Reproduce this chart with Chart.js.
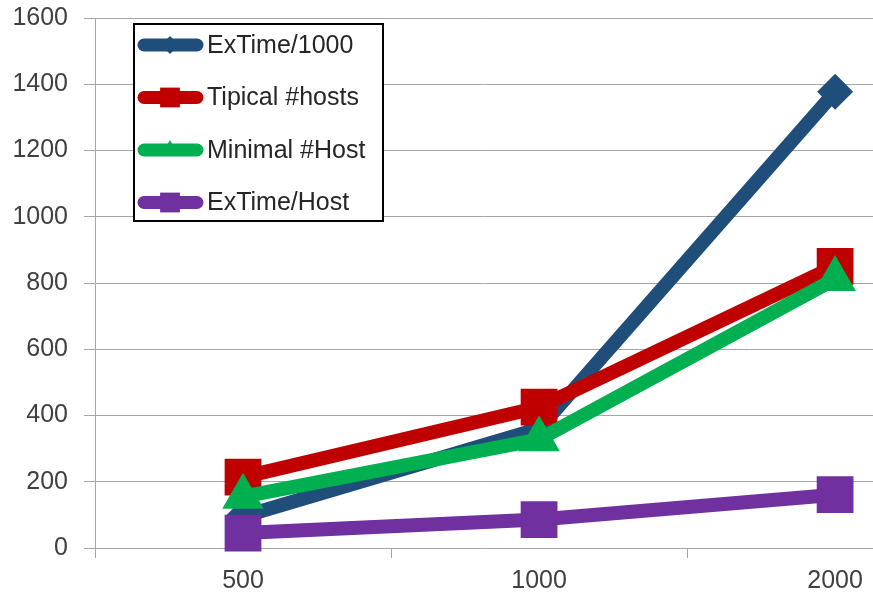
<!DOCTYPE html>
<html>
<head>
<meta charset="utf-8">
<script src="https://cdn.jsdelivr.net/npm/chart.js@4/dist/chart.umd.min.js"></script>
<style>
  html, body { margin: 0; padding: 0; background: #fff; }
  #wrap { width: 873px; height: 600px; }
</style>
</head>
<body>
<div id="wrap"><canvas id="lineChart"></canvas></div>
<script>
const categories = ["500", "1000", "2000"];
const exTime1000 = [95, 360, 1377];
const tipicalHosts = [214, 425, 850];
const minimalHost = [155, 328, 812];
const exTimeHost = [45, 86, 161];
const yTicks = [0, 200, 400, 600, 800, 1000, 1200, 1400, 1600];

const FONT = "'Liberation Sans', Arial, sans-serif";
const GRID = "#a6a6a6";

function toPoints(values) {
  return values.map((v, i) => ({ x: i, y: v }));
}

function makeSeries(label, values, color, style, radius, order) {
  return {
    label: label,
    data: toPoints(values),
    borderColor: color,
    backgroundColor: color,
    borderWidth: 14,
    borderCapStyle: "round",
    borderJoinStyle: "round",
    pointStyle: style,
    pointRadius: radius,
    pointHoverRadius: radius,
    pointBorderWidth: 0,
    pointBackgroundColor: color,
    order: order,
    legendRadius: style === "rectRot" ? 9 : style === "triangle" ? 10 : 14,
  };
}

// keep the plot edges where the original has them (top at 18px, right edge cut off)
function setPad(scale, side, v) {
  scale["padding" + side] = v;
  if (scale._margins) scale._margins[side.toLowerCase()] = v;
}

// legend drawn inside the plot, boxed, like the original
const boxLegend = {
  id: "boxLegend",
  afterDraw(chart) {
    const ctx = chart.ctx;
    const x0 = 134, y0 = 24, w = 249, h = 197;
    ctx.save();
    ctx.fillStyle = "#fff";
    ctx.fillRect(x0, y0, w, h);
    ctx.lineWidth = 2;
    ctx.strokeStyle = "#000";
    ctx.strokeRect(x0, y0, w, h);
    ctx.font = "25px " + FONT;
    ctx.textBaseline = "middle";
    chart.data.datasets.forEach((ds, i) => {
      const cy = 45 + i * 52.5;
      ctx.strokeStyle = ds.borderColor;
      ctx.lineWidth = 13;
      ctx.lineCap = "round";
      ctx.beginPath();
      ctx.moveTo(144, cy);
      ctx.lineTo(197, cy);
      ctx.stroke();
      ctx.fillStyle = ds.borderColor;
      Chart.helpers.drawPoint(ctx, {
        pointStyle: ds.pointStyle,
        radius: ds.legendRadius,
        borderWidth: 0,
        rotation: 0,
      }, 170, cy);
      ctx.fillStyle = "#262626";
      ctx.fillText(ds.label, 207, cy + 1);
    });
    ctx.restore();
  },
};

new Chart(document.getElementById("lineChart"), {
  type: "line",
  data: {
    datasets: [
      makeSeries("ExTime/1000", exTime1000, "#1f4e7a", "rectRot", 18, 4),
      makeSeries("Tipical #hosts", tipicalHosts, "#c00000", "rect", 26, 3),
      makeSeries("Minimal #Host", minimalHost, "#00b050", "triangle", 24, 2),
      makeSeries("ExTime/Host", exTimeHost, "#7030a0", "rect", 26, 1),
    ],
  },
  options: {
    responsive: true,
    maintainAspectRatio: false,
    animation: false,
    clip: false,
    layout: { autoPadding: false, padding: { top: 18, left: 0, right: 0, bottom: 0 } },
    plugins: {
      legend: { display: false },
      tooltip: { enabled: false },
    },
    scales: {
      x: {
        type: "linear",
        min: -0.5,
        max: 2.128,
        afterBuildTicks: (scale) => {
          scale.ticks = [-0.5, 0, 0.5, 1, 1.5, 2].map((v) => ({ value: v }));
        },
        afterFit: (scale) => {
          scale.height = 52;
          setPad(scale, "Left", 0);
          setPad(scale, "Right", 0);
        },
        grid: {
          drawOnChartArea: false,
          drawTicks: true,
          tickLength: 10,
          color: (c) => (Number.isInteger(c.tick.value) ? "rgba(0,0,0,0)" : GRID),
        },
        border: { display: true, color: GRID, width: 1 },
        ticks: {
          autoSkip: false,
          maxRotation: 0,
          padding: 8,
          color: "#404040",
          font: { family: FONT, size: 25 },
          callback: (v) => (Number.isInteger(v) ? categories[v] : ""),
        },
      },
      y: {
        min: 0,
        max: 1600,
        afterBuildTicks: (scale) => {
          scale.ticks = yTicks.map((v) => ({ value: v }));
        },
        afterFit: (scale) => {
          scale.width = 95;
          setPad(scale, "Top", 0);
          setPad(scale, "Bottom", 0);
        },
        grid: {
          color: GRID,
          lineWidth: 1,
          drawTicks: true,
          tickLength: 11,
        },
        border: { display: true, color: GRID, width: 1 },
        ticks: {
          padding: 16,
          color: "#404040",
          font: { family: FONT, size: 25 },
          callback: (v) => String(v),
        },
      },
    },
  },
  plugins: [boxLegend],
});
</script>
</body>
</html>
